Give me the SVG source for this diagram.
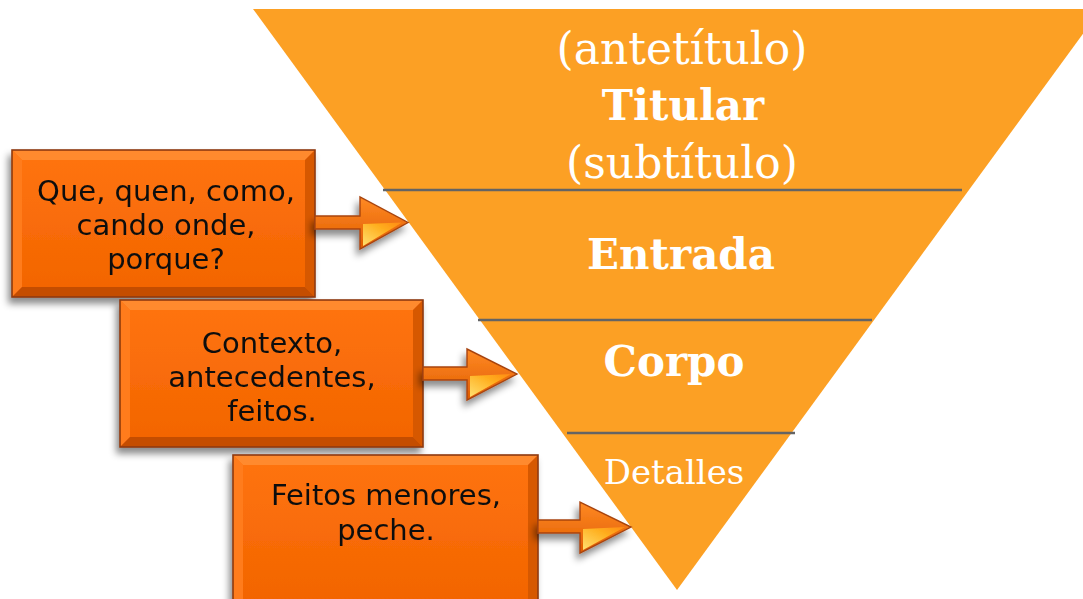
<svg xmlns="http://www.w3.org/2000/svg" width="1083" height="599" viewBox="0 0 1083 599">
<style>
.tri{fill:#FCA024}
.sep{stroke:#646464;stroke-width:2.5}
.ttl{font-family:"DejaVu Serif","Liberation Serif",serif;fill:#FFFFFF;text-anchor:middle}
.b{font-weight:bold}
.lbl{font-family:"DejaVu Sans","Liberation Sans",sans-serif;font-size:29px;fill:#111111;text-anchor:middle}
.face{fill:url(#boxFill)}
.bt{fill:#FF8A2E}
.bl{fill:#FF7C1C}
.br{fill:#D65806}
.bb{fill:#C44E02}
.edge{fill:none;stroke:#8E3A0C;stroke-width:1.6}
.arrow{fill:url(#arrowFill);stroke:#A8440E;stroke-width:1.4}
.hl{fill:url(#headFill)}
</style>
<defs>
<linearGradient id="boxFill" x1="0" y1="0" x2="0" y2="1">
<stop offset="0" stop-color="#FF7410"/>
<stop offset="1" stop-color="#F26400"/>
</linearGradient>
<linearGradient id="arrowFill" x1="0" y1="0" x2="0" y2="1">
<stop offset="0" stop-color="#FF8A24"/>
<stop offset="1" stop-color="#E05C00"/>
</linearGradient>
<linearGradient id="headFill" x1="0" y1="1" x2="1" y2="0">
<stop offset="0" stop-color="#FFE070"/>
<stop offset="0.6" stop-color="#FFB020"/>
<stop offset="1" stop-color="#FF8A10"/>
</linearGradient>
<filter id="shadow" x="-20%" y="-20%" width="140%" height="150%">
<feDropShadow dx="-3" dy="6" stdDeviation="3.5" flood-color="#000000" flood-opacity="0.45"/>
</filter>
</defs>

<g id="pyramid">
<polygon class="tri" points="253,9 1101,9 677,590"/>
<line class="sep" x1="383" y1="190" x2="962" y2="190"/>
<line class="sep" x1="478" y1="320" x2="872" y2="320"/>
<line class="sep" x1="567" y1="433" x2="795" y2="433"/>
</g>

<g id="sec-titular">
<text class="ttl" x="682" y="64" font-size="44">(antetítulo)</text>
<text class="ttl b" x="683" y="120" font-size="42">Titular</text>
<text class="ttl" x="682" y="178" font-size="44">(subtítulo)</text>
</g>
<g id="sec-entrada">
<text class="ttl b" x="681" y="269" font-size="42">Entrada</text>
</g>
<g id="sec-corpo">
<text class="ttl b" x="674" y="376" font-size="42">Corpo</text>
</g>
<g id="sec-detalles">
<text class="ttl" x="674" y="484" font-size="34">Detalles</text>
</g>

<g id="box1" filter="url(#shadow)">
<rect class="face" x="12" y="150" width="303" height="147"/>
<polygon class="bt" points="12,150 315,150 305,160 22,160"/>
<polygon class="bl" points="12,150 22,160 22,287 12,297"/>
<polygon class="br" points="315,150 315,297 305,287 305,160"/>
<polygon class="bb" points="12,297 22,287 305,287 315,297"/>
<rect class="edge" x="12" y="150" width="303" height="147"/>
<text class="lbl" x="166" y="201">Que, quen, como,</text>
<text class="lbl" x="166" y="235">cando onde,</text>
<text class="lbl" x="166" y="269">porque?</text>
</g>

<g id="box2" filter="url(#shadow)">
<rect class="face" x="120" y="300" width="303" height="147"/>
<polygon class="bt" points="120,300 423,300 413,310 130,310"/>
<polygon class="bl" points="120,300 130,310 130,437 120,447"/>
<polygon class="br" points="423,300 423,447 413,437 413,310"/>
<polygon class="bb" points="120,447 130,437 413,437 423,447"/>
<rect class="edge" x="120" y="300" width="303" height="147"/>
<text class="lbl" x="272" y="353">Contexto,</text>
<text class="lbl" x="272" y="387">antecedentes,</text>
<text class="lbl" x="272" y="421">feitos.</text>
</g>

<g id="box3" filter="url(#shadow)">
<rect class="face" x="233" y="455" width="305" height="150"/>
<polygon class="bt" points="233,455 538,455 528,465 243,465"/>
<polygon class="bl" points="233,455 243,465 243,605 233,605"/>
<polygon class="br" points="538,455 538,605 528,605 528,465"/>
<rect class="edge" x="233" y="455" width="305" height="150"/>
<text class="lbl" x="386" y="505">Feitos menores,</text>
<text class="lbl" x="386" y="540">peche.</text>
</g>

<g id="connectors" filter="url(#shadow)">
<g id="arrow1">
<polygon class="arrow" points="315,216 360,216 360,197 408,222.5 360,249 360,229 315,229"/>
<polygon class="hl" points="363,246 363,224 402,222.5"/>
</g>
<g id="arrow2">
<polygon class="arrow" points="423,367 467,367 467,349 517,374 467,400 467,380 423,380"/>
<polygon class="hl" points="470,397 470,376 511,374"/>
</g>
<g id="arrow3">
<polygon class="arrow" points="538,520 580,520 580,502 631,527 580,553 580,533 538,533"/>
<polygon class="hl" points="583,550 583,529 625,527"/>
</g>
</g>
</svg>
